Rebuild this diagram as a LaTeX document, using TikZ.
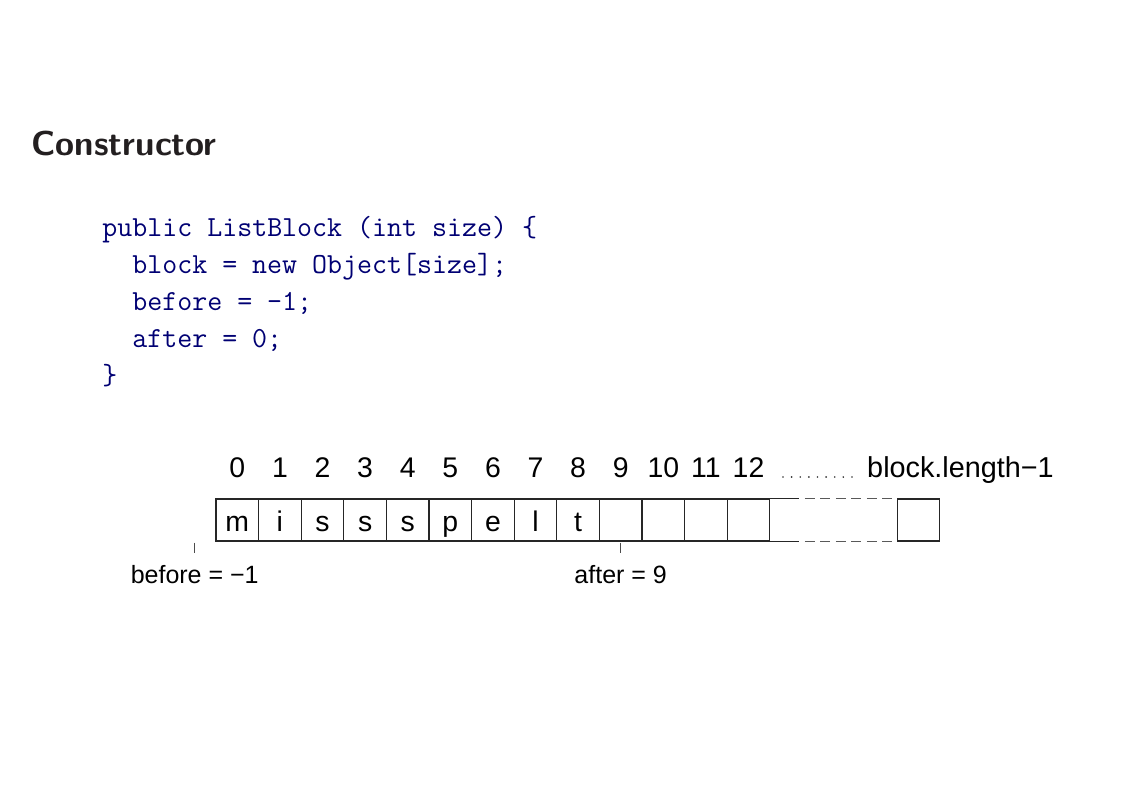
\documentclass[tikz,border=0pt]{standalone}
\usepackage{fontspec}
\newfontfamily\helv{Liberation Sans}
\usetikzlibrary{positioning}
\definecolor{titlegray}{RGB}{35,31,32}
\definecolor{codeblue}{RGB}{0,0,115}
\begin{document}
\begin{tikzpicture}[x=0.5pt, y=-0.5pt]
  \tikzstyle{frametitle}=[anchor=base west, inner sep=0pt, text=titlegray, font=\sffamily\bfseries\fontsize{17.3}{20}\selectfont]
  \tikzstyle{codetext}=[anchor=base west, inner sep=0pt, align=left, text=codeblue, font=\ttfamily\fontsize{14.55}{18.5}\selectfont]
  \tikzstyle{cell}=[rectangle, draw=black!85, line width=0.6pt, minimum width=21.3pt, minimum height=21pt, inner sep=0pt, text height=11pt, text depth=0pt, font=\helv\fontsize{14.2}{17}\selectfont]
  \tikzstyle{cellline}=[draw=black!85, line width=0.6pt]
  \tikzstyle{gapline}=[draw=black!65, line width=0.6pt, dash pattern=on 5pt off 2.75pt, dash phase=5pt]
  \tikzstyle{dotline}=[draw=black!80, line width=0.9pt, line cap=round, dash pattern=on 0pt off 4.31pt]
  \tikzstyle{index}=[anchor=base, inner sep=0pt, font=\helv\fontsize{14.2}{17}\selectfont]
  \tikzstyle{pointer}=[anchor=base, inner sep=0pt, font=\helv\fontsize{12.5}{15}\selectfont]
  \tikzstyle{tickmark}=[draw=black!70, line width=0.5pt]

  \useasboundingbox (0,0) rectangle (1146,786);

  \node [frametitle] (title) at (31,156) {Constructor};

  % code (base anchor sits on the last line)
  \node [codetext] (code) at (102,385) {public ListBlock (int size) \{\\
    \ \ block = new Object[size];\\
    \ \ before = -1;\\
    \ \ after = 0;\\
    \}};

  % the array
  \foreach \ch [count=\i from 0] in {m,i,s,s,s,p,e,l,t,{},{},{},{}}
    \node [cell] (c\i) at ({237.3+42.6*\i},520) {\ch};
  \node [cell] (clast) at (918.5,520) {};

  % open part of the array
  \draw [cellline] (c12.north east) -- ++(29,0) coordinate (gaptop);
  \draw [cellline] (c12.south east) -- ++(29,0) coordinate (gapbot);
  \draw [gapline] (gaptop) -- (clast.north west);
  \draw [gapline] (gapbot) -- (clast.south west);

  % indices
  \foreach \i in {0,...,12}
    \node [index] (n\i) at (c\i |- 0,477) {\i};
  \coordinate (dotstart) at (783,477);
  \coordinate (dotend) at (852.5,477);
  \draw [dotline] (dotstart) -- (dotend);
  \node [index, font=\helv\fontsize{14.4}{17}\selectfont] (len) at (960.5,477) {block.length−1};

  % before and after
  \coordinate (beforetick) at ([xshift=-21.3pt]c0.south);
  \coordinate (aftertick) at (c9.south);
  \draw [tickmark] ([yshift=-0.5pt]beforetick) -- ++(0,10);
  \draw [tickmark] ([yshift=-0.5pt]aftertick) -- ++(0,10);
  \node [pointer] (before) at (beforetick |- 0,583) {before = −1};
  \node [pointer] (after) at (aftertick |- 0,583) {after = 9};
\end{tikzpicture}
\end{document}
